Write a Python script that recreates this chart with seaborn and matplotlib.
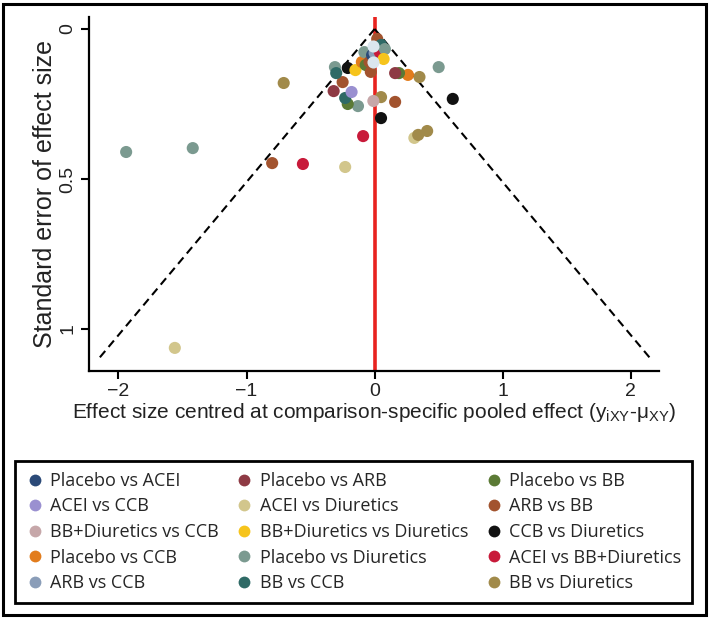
import numpy as np
import pandas as pd
import seaborn as sns
from matplotlib import pyplot as plt
from matplotlib.lines import Line2D
from matplotlib.patches import Rectangle

# legend order (row by row as in the figure)
comparisons = ["Placebo vs ACEI", "Placebo vs ARB", "Placebo vs BB",
               "ACEI vs CCB", "ACEI vs Diuretics", "ARB vs BB",
               "BB+Diuretics vs CCB", "BB+Diuretics vs Diuretics", "CCB vs Diuretics",
               "Placebo vs CCB", "Placebo vs Diuretics", "ACEI vs BB+Diuretics",
               "ARB vs CCB", "BB vs CCB", "BB vs Diuretics"]
colours = ["#2b4a78", "#8e3a44", "#5b7a35",
           "#9a90d0", "#d2c68c", "#a2532e",
           "#c6a7a9", "#f6c41c", "#111111",
           "#e27c1c", "#7b9a90", "#c81a3a",
           "#8a9db8", "#2f6a66", "#a18a4a"]

# study points: comparison, centred effect, standard error
study_cmp = ["Placebo vs Diuretics", "Placebo vs Diuretics", "ACEI vs Diuretics", "ARB vs BB",
             "ACEI vs BB+Diuretics", "ACEI vs Diuretics", "BB vs Diuretics", "ACEI vs BB+Diuretics",
             "ACEI vs Diuretics", "BB vs Diuretics", "BB vs Diuretics", "CCB vs Diuretics",
             "CCB vs Diuretics", "ARB vs BB", "BB vs Diuretics", "BB+Diuretics vs CCB",
             "Placebo vs Diuretics", "Placebo vs BB", "BB vs CCB", "ACEI vs CCB",
             "Placebo vs ARB", "ARB vs BB", "Placebo vs Diuretics", "BB vs Diuretics",
             "Placebo vs CCB", "Placebo vs BB", "Placebo vs ARB", "Placebo vs Diuretics",
             "BB vs CCB", "CCB vs Diuretics", "BB+Diuretics vs Diuretics", "Placebo vs CCB",
             "Placebo vs BB", "Placebo vs Diuretics", "ARB vs BB", "ARB vs BB",
             "Placebo vs ACEI", "ARB vs CCB", "ACEI vs BB+Diuretics", "ARB vs BB",
             "BB vs CCB", "Placebo vs Diuretics", "BB+Diuretics vs Diuretics"]
study_eff = [-1.94, -1.42, -1.56, -0.80,
             -0.56, -0.23, -0.71, -0.09,
             0.31, 0.34, 0.41, 0.05,
             0.61, 0.16, 0.05, -0.01,
             -0.13, -0.21, -0.23, -0.18,
             -0.32, -0.25, 0.50, 0.35,
             0.26, 0.19, 0.16, -0.31,
             -0.30, -0.21, -0.15, -0.10,
             -0.07, -0.08, -0.03, -0.04,
             -0.02, 0.00, 0.04, 0.02,
             0.05, 0.08, 0.07]
study_se = [0.410, 0.397, 1.063, 0.447,
            0.450, 0.460, 0.180, 0.357,
            0.363, 0.353, 0.340, 0.297,
            0.233, 0.243, 0.227, 0.240,
            0.257, 0.250, 0.230, 0.210,
            0.207, 0.177, 0.127, 0.160,
            0.153, 0.147, 0.147, 0.127,
            0.147, 0.130, 0.137, 0.110,
            0.120, 0.077, 0.143, 0.110,
            0.087, 0.080, 0.077, 0.033,
            0.053, 0.067, 0.100]
# two pale points on top of the apex cluster
pale_eff = [-0.01, -0.01]
pale_se = [0.057, 0.110]

se_max = 1.1

df = pd.DataFrame({"comparison": study_cmp, "effect": study_eff, "se": study_se})

sns.set_style("ticks")
plt.rcParams["font.family"] = ["Liberation Sans", "DejaVu Sans"]

fig = plt.figure(figsize=(7.09, 6.18), dpi=100)
ax = fig.add_axes([89 / 709, 1 - 371 / 618, 570 / 709, 354 / 618])

se_line = np.array([0, se_max])
ax.plot(-1.96 * se_line, se_line, color="black", lw=1.5, ls=(0, (4, 2.5)))
ax.plot(1.96 * se_line, se_line, color="black", lw=1.5, ls=(0, (4, 2.5)))
ax.axvline(0, color="#e8231f", lw=2.6, zorder=1)

palette = dict(zip(comparisons, colours))
sns.scatterplot(data=df, x="effect", y="se", hue="comparison", palette=palette,
                hue_order=comparisons, s=76, linewidth=0, legend=False, ax=ax, zorder=3)
ax.scatter(pale_eff, pale_se, s=76, color="#dbe6ee", linewidths=0, zorder=4)

ax.set_xlim(-2.23, 2.22)
ax.set_ylim(1.14, -0.04)
ax.set_xticks([-2, -1, 0, 1, 2])
ax.set_xticklabels(["\u22122", "\u22121", "0", "1", "2"])
ax.set_yticks([0, 0.5, 1])
ax.set_yticklabels(["0", "0.5", "1"], rotation=90, va="center")
ax.tick_params(labelsize=14, width=1.5, length=6, color="black", labelcolor="#222222", pad=3)
for side in ["left", "bottom"]:
    ax.spines[side].set_linewidth(1.6)
    ax.spines[side].set_color("black")
sns.despine(ax=ax)

ax.set_ylabel("Standard error of effect size", fontsize=18, color="#222222", labelpad=2)
ax.set_xlabel(r"Effect size centred at comparison-specific pooled effect (y$_{\mathregular{iXY}}$-$\mathregular{\mu}_{\mathregular{XY}}$)",
              fontsize=15, color="#222222", labelpad=0)

# legend filled column by column
order = [0, 3, 6, 9, 12, 1, 4, 7, 10, 13, 2, 5, 8, 11, 14]
handles = [Line2D([], [], ls="", marker="o", ms=8.5, mec="none", mfc=colours[i]) for i in order]
labels = [comparisons[i] for i in order]
leg = fig.legend(handles, labels, ncol=3, loc="lower left", mode="expand",
                 bbox_to_anchor=(15 / 709, 1 - 603 / 618, 677 / 709, 153 / 618),
                 prop={"family": "Open Sans", "size": 13}, frameon=True, fancybox=False,
                 edgecolor="black", framealpha=1, borderpad=0.6, labelspacing=0.42,
                 handletextpad=0.35, handlelength=1.0, borderaxespad=0)
leg.get_frame().set_linewidth(2)

fig.patches.append(Rectangle((3 / 709, 3 / 618), 703 / 709, 611 / 618, transform=fig.transFigure,
                             fill=False, edgecolor="black", lw=2.2))

fig.savefig("out.png", dpi=100)
